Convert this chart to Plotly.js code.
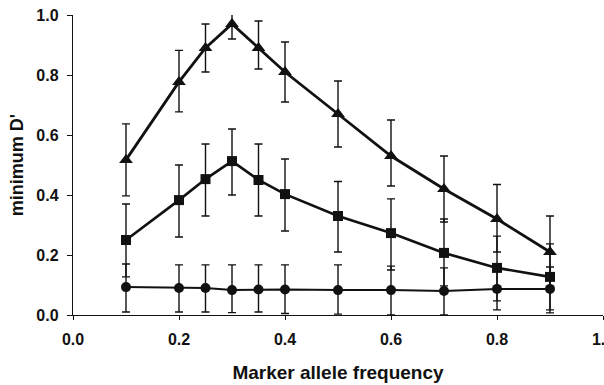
<!DOCTYPE html>
<html>
<head>
<meta charset="utf-8">
<script src="https://cdn.plot.ly/plotly-3.0.1.min.js"></script>
<style>html,body{margin:0;padding:0;background:#fff;}#chart{width:604px;height:385px;}</style>
</head>
<body>
<div id="chart"></div>
<script>
// Marker allele frequency
const freq = [0.1, 0.2, 0.25, 0.3, 0.35, 0.4, 0.5, 0.6, 0.7, 0.8, 0.9];

// Triangles series
const triVal   = [0.517, 0.777, 0.89, 0.97, 0.89, 0.81, 0.67, 0.53, 0.42, 0.32, 0.21];
const triUp    = [0.12, 0.105, 0.08, 0.05, 0.09, 0.10, 0.11, 0.12, 0.11, 0.115, 0.12];
const triDown  = [0.12, 0.10, 0.08, 0.05, 0.07, 0.10, 0.11, 0.10, 0.11, 0.11, 0.12];

// Squares series
const sqVal    = [0.25, 0.383, 0.453, 0.513, 0.45, 0.403, 0.33, 0.273, 0.207, 0.157, 0.127];
const sqUp     = [0.12, 0.117, 0.117, 0.107, 0.12, 0.117, 0.115, 0.114, 0.113, 0.106, 0.11];
const sqDown   = [0.123, 0.123, 0.123, 0.113, 0.12, 0.123, 0.12, 0.123, 0.11, 0.11, 0.11];

// Circles series
const cirVal   = [0.093, 0.09, 0.09, 0.083, 0.085, 0.085, 0.083, 0.083, 0.08, 0.087, 0.087];
const cirUp    = [0.077, 0.077, 0.077, 0.084, 0.082, 0.082, 0.084, 0.08, 0.077, 0.08, 0.073];
const cirDown  = [0.083, 0.08, 0.08, 0.075, 0.075, 0.08, 0.08, 0.083, 0.08, 0.07, 0.08];

const xTicks = [0, 0.2, 0.4, 0.6, 0.8, 1.0];
const yTicks = [0, 0.2, 0.4, 0.6, 0.8, 1.0];

function errs(up, down) {
  return {type: 'data', symmetric: false, array: up, arrayminus: down,
          color: '#111', thickness: 1.4, width: 4, visible: true};
}

const traces = [
  {x: freq, y: cirVal, mode: 'lines+markers', type: 'scatter',
   line: {color: '#111', width: 2},
   marker: {symbol: 'circle', size: 10, color: '#111'},
   error_y: errs(cirUp, cirDown), showlegend: false, cliponaxis: false},
  {x: freq, y: sqVal, mode: 'lines+markers', type: 'scatter',
   line: {color: '#111', width: 2.6},
   marker: {symbol: 'square', size: 10, color: '#111'},
   error_y: errs(sqUp, sqDown), showlegend: false, cliponaxis: false},
  {x: freq, y: triVal, mode: 'lines+markers', type: 'scatter',
   line: {color: '#111', width: 2.8},
   marker: {symbol: 'triangle-up', size: 12, color: '#111'},
   error_y: errs(triUp, triDown), showlegend: false, cliponaxis: false}
];

const fontFam = 'Liberation Sans, Arial, sans-serif';
const layout = {
  width: 604, height: 385,
  margin: {l: 73, r: 1, t: 15, b: 70},
  paper_bgcolor: '#fff', plot_bgcolor: '#fff',
  font: {family: fontFam, color: '#111'},
  xaxis: {
    range: [0, 1], tickvals: xTicks, ticktext: xTicks.map(v => v.toFixed(1)),
    showgrid: false, zeroline: false, showline: true, linecolor: '#111', linewidth: 1.2,
    ticks: 'outside', ticklen: 4, tickcolor: '#111', automargin: false,
    ticklabeloverflow: 'allow', ticklabelstandoff: 6,
    tickfont: {size: 16, family: fontFam, weight: 'bold'},
    title: {text: '<b>Marker allele frequency</b>', font: {size: 19, family: fontFam}, standoff: 18}
  },
  yaxis: {
    range: [0, 1], tickvals: yTicks, ticktext: yTicks.map(v => v.toFixed(1)),
    showgrid: false, zeroline: false, showline: true, linecolor: '#111', linewidth: 1.2,
    ticks: 'outside', ticklen: 5, tickcolor: '#111', automargin: false,
    ticklabeloverflow: 'allow', ticklabelstandoff: 5,
    tickfont: {size: 16, family: fontFam, weight: 'bold'},
    title: {text: "<b>minimum D'</b>", font: {size: 18, family: fontFam}, standoff: 8}
  }
};

Plotly.newPlot('chart', traces, layout, {displayModeBar: false, staticPlot: true});
</script>
</body>
</html>
